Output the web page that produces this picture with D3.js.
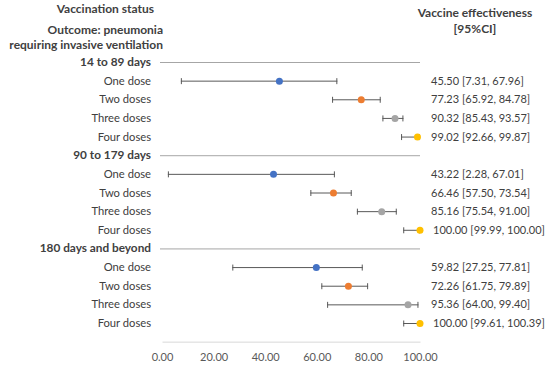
<!DOCTYPE html>
<html>
<head>
<meta charset="utf-8">
<script src="https://cdn.jsdelivr.net/npm/d3@7"></script>
<style>
  body { margin: 0; background: #fff; }
  svg { font-family: Lato, "Open Sans", sans-serif; }
</style>
</head>
<body>
<div id="chart"></div>
<script>
// ============================================
// DATA
// ============================================

const periods = ["14 to 89 days", "90 to 179 days", "180 days and beyond"];
const doses = ["One dose", "Two doses", "Three doses", "Four doses"];
const doseColors = ["#4472C4", "#ED7D31", "#A5A5A5", "#FFC000"];

// vaccine effectiveness and 95% CI, row order: period x dose
const ve = [45.50, 77.23, 90.32, 99.02, 43.22, 66.46, 85.16, 100.00, 59.82, 72.26, 95.36, 100.00];
const ciLow = [7.31, 65.92, 85.43, 92.66, 2.28, 57.50, 75.54, 99.99, 27.25, 61.75, 64.00, 99.61];
const ciHigh = [67.96, 84.78, 93.57, 99.87, 67.01, 73.54, 91.00, 100.00, 77.81, 79.89, 99.40, 100.39];

// whiskers as they are drawn in the figure (differ from the CI on the 100% rows)
const barLow = [7.31, 65.92, 85.43, 92.66, 2.28, 57.50, 75.54, 93.5, 27.25, 61.75, 64.00, 93.5];
const barHigh = [67.96, 84.78, 93.57, 99.87, 67.01, 73.54, 91.00, 100.00, 77.81, 79.89, 99.40, 100.00];

const xTicks = [0, 20, 40, 60, 80, 100];

// ============================================
// LAYOUT
// ============================================

const width = 550, height = 372;
const textColor = "#404040";
const fontSize = 11.2;

// build row list: header then the four doses for each period
const rows = [];
periods.forEach((p, i) => {
  rows.push({ id: "h" + i, type: "header", label: p });
  doses.forEach((d, j) => {
    const k = i * 4 + j;
    rows.push({
      id: "r" + k, type: "dose", label: d, dose: j,
      ve: ve[k], lo: barLow[k], hi: barHigh[k],
      text: `${ve[k].toFixed(2)} [${ciLow[k].toFixed(2)}, ${ciHigh[k].toFixed(2)}]`
    });
  });
});

const x = d3.scaleLinear().domain([0, 100]).range([162, 420]);
const y = d3.scalePoint().domain(rows.map(r => r.id)).range([62, 323]);
const axisY = y(rows[rows.length - 1].id) + y.step();

const svg = d3.select("#chart").append("svg")
  .attr("width", width)
  .attr("height", height);

// column headers
const head = svg.append("g")
  .attr("font-weight", "bold")
  .attr("font-size", 12)
  .attr("fill", textColor);

head.append("text").attr("x", 154).attr("y", 13).attr("text-anchor", "end").text("Vaccination status");
head.append("text").attr("x", 163).attr("y", 34).attr("text-anchor", "end").text("Outcome: pneumonia");
head.append("text").attr("x", 163).attr("y", 49).attr("text-anchor", "end").text("requiring invasive ventilation");
head.append("text").attr("x", 475).attr("y", 17).attr("text-anchor", "middle").text("Vaccine effectiveness");
head.append("text").attr("x", 475).attr("y", 33).attr("text-anchor", "middle").text("[95%CI]");

// row labels
svg.append("g").selectAll("text")
  .data(rows)
  .join("text")
  .attr("x", 151)
  .attr("y", d => y(d.id) + 4)
  .attr("text-anchor", "end")
  .attr("font-size", d => d.type === "header" ? 11.8 : fontSize)
  .attr("font-weight", d => d.type === "header" ? "bold" : "normal")
  .attr("fill", textColor)
  .text(d => d.label);

// separators at period headers
svg.append("g").selectAll("line")
  .data(rows.filter(r => r.type === "header"))
  .join("line")
  .attr("x1", 160).attr("x2", 420)
  .attr("y1", d => y(d.id) + 0.5).attr("y2", d => y(d.id) + 0.5)
  .attr("stroke", "#A6A6A6");

const doseRows = rows.filter(r => r.type === "dose");

// whiskers
const bars = svg.append("g").attr("stroke", "#595959").attr("stroke-width", 1);
bars.selectAll(".bar")
  .data(doseRows)
  .join("line")
  .attr("x1", d => x(d.lo)).attr("x2", d => x(d.hi))
  .attr("y1", d => y(d.id) + 0.5).attr("y2", d => y(d.id) + 0.5);
bars.selectAll(".capL")
  .data(doseRows)
  .join("line")
  .attr("x1", d => x(d.lo) + 0.5).attr("x2", d => x(d.lo) + 0.5)
  .attr("y1", d => y(d.id) - 2.5).attr("y2", d => y(d.id) + 3.5);
bars.selectAll(".capR")
  .data(doseRows)
  .join("line")
  .attr("x1", d => x(d.hi) - 0.5).attr("x2", d => x(d.hi) - 0.5)
  .attr("y1", d => y(d.id) - 2.5).attr("y2", d => y(d.id) + 3.5);

// points
svg.append("g").selectAll("circle")
  .data(doseRows)
  .join("circle")
  .attr("cx", d => x(d.ve))
  .attr("cy", d => y(d.id) + 0.5)
  .attr("r", 3.5)
  .attr("fill", d => doseColors[d.dose]);

// value labels
svg.append("g").selectAll("text")
  .data(doseRows)
  .join("text")
  .attr("x", d => d.ve >= 100 ? 433 : 431)
  .attr("y", d => y(d.id) + 4)
  .attr("font-size", 11)
  .attr("fill", textColor)
  .text(d => d.text);

// x axis
const axis = svg.append("g")
  .attr("transform", `translate(0,${axisY})`)
  .call(d3.axisBottom(x)
    .tickValues(xTicks)
    .tickFormat(d3.format(".2f"))
    .tickSize(0)
    .tickPadding(12));
axis.select(".domain").attr("stroke", "#D9D9D9");
axis.selectAll("text")
  .attr("font-family", "Lato, 'Open Sans', sans-serif")
  .attr("font-size", 11)
  .attr("fill", "#595959");
</script>
</body>
</html>
